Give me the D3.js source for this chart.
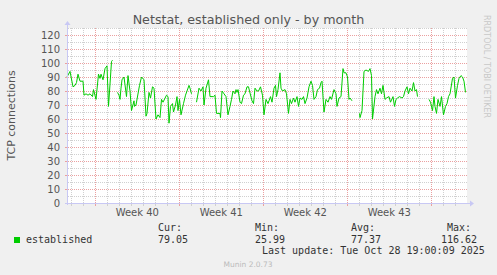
<!DOCTYPE html>
<html>
<head>
<meta charset="utf-8">
<script src="https://cdn.jsdelivr.net/npm/d3@7/dist/d3.min.js"></script>
<style>
body{margin:0;background:#f0f0f0;}
svg{display:block;}
</style>
</head>
<body>
<svg id="chart" width="497" height="275"></svg>
<script>
// hours since the start of the graph window, and the value read there (null = no data)
var hours = [0,6,12,16,19,22,26,32,34,38,42,46,51,53,58,63,66,68,72,76,80,83,89,91,96,
	101,104,106,108,110,114,119,122,126,129,134,135,138,145,149,154,158,160,164,167,171,174,178,182,186,189,192,199,202,204,207,211,213,217,220,222,225,228,233,237,240,244,246,249,254,
	259,264,268,272,274,278,283,286,293,296,299,306,307,310,314,318,322,326,329,332,336,338,340,342,346,349,353,356,360,363,365,370,373,376,380,383,387,391,394,398,402,407,410,414,417,419,422,426,428,431,436,439,443,446,449,453,456,460,463,466,470,473,476,480,484,488,491,494,498,501,505,508,510,514,518,522,526,529,534,538,540,544,548,552,554,558,561,564,566,570,576,
	585,586,590,594,598,603,606,609,611,616,619,622,626,629,632,636,639,644,647,652,655,658,661,665,670,673,676,680,683,686,690,693,696,699,701,712,
	724,727,731,734,736,739,742,746,749,753,757,760,763,766,771,774,777,781,784,788,791,794,797];
var established = [90,94,83,84,86,92,87,87,77,78,77,78,76,81,74,92,89,92,88,96,98,69,101,102,null,
	79,77,74,82,88,90,76,91,80,66,73,69,70,84,90,88,62,64,79,75,83,82,60,63,61,74,72,77,76,57,69,71,65,70,76,66,74,63,71,77,80,84,82,78,null,
	72,82,80,83,70,82,88,76,76,77,64,64,61,80,78,76,63,69,74,80,78,81,79,81,72,71,77,78,83,83,80,73,71,82,80,80,83,77,63,74,71,76,72,82,84,76,81,93,82,80,81,78,64,74,71,75,72,76,69,75,74,76,71,75,83,87,84,74,76,81,82,86,87,65,74,72,76,74,81,78,69,75,76,96,93,93,90,74,75,73,null,
	64,61,66,94,95,94,96,91,60,76,81,78,82,78,84,74,75,76,72,76,69,74,75,76,75,76,80,83,78,82,80,86,80,81,76,null,
	74,72,66,76,69,64,74,69,76,63,69,71,76,78,89,90,75,84,89,91,90,87,79];

var yTicks = [0,10,20,30,40,50,60,70,80,90,100,110,120];
var legendHeads = ["Cur:","Min:","Avg:","Max:"];
var legendValues = ["79.05","25.99","77.37","116.62"];
var lastUpdate = "Last update: Tue Oct 28 19:00:09 2025";

var HOUR = 3600*1000;
var startTime = Date.UTC(2025,8,26,15,24,0);
var endTime = startTime + 800*HOUR;

var svg = d3.select("#chart");
var plotLeft = 67, plotTop = 28, plotW = 400, plotH = 175;
var plotBottom = plotTop + plotH;

var x = d3.scaleUtc().domain([new Date(startTime), new Date(endTime)]).range([plotLeft, plotLeft+plotW]);
var y = d3.scaleLinear().domain([0,125]).range([plotBottom, plotTop]);

var points = hours.map(function(h,i){
	return {t:new Date(startTime + h*HOUR), v:established[i]};
});

// plot canvas
svg.append("rect").attr("x",plotLeft).attr("y",plotTop).attr("width",plotW).attr("height",plotH).attr("fill","#ffffff");

var weeks = d3.utcMonday.range(x.domain()[0], x.domain()[1]);
var days = d3.utcDay.range(x.domain()[0], x.domain()[1]).filter(function(d){return d.getUTCDay()!==1;});
var minorY = d3.range(5,126,10);
var px = function(d){return Math.round(x(d))+0.5;};
var py = function(d){return Math.round(y(d))+0.5;};
var minorCol = "#d0d0d0", majorCol = "#eba0a0";

var grid = svg.append("g");
grid.selectAll(".vmin").data(days).enter().append("line")
	.attr("x1",px).attr("x2",px)
	.attr("y1",plotTop).attr("y2",plotBottom)
	.attr("stroke",minorCol).attr("stroke-dasharray","1,1");
grid.selectAll(".hmin").data(minorY).enter().append("line")
	.attr("y1",py).attr("y2",py)
	.attr("x1",plotLeft+1).attr("x2",plotLeft+plotW+1)
	.attr("stroke",minorCol).attr("stroke-dasharray","1,1");
grid.selectAll(".vmaj").data(weeks).enter().append("line")
	.attr("x1",px).attr("x2",px)
	.attr("y1",plotTop).attr("y2",plotBottom)
	.attr("stroke",majorCol).attr("stroke-dasharray","1,1");
grid.selectAll(".hmaj").data(yTicks.slice(1)).enter().append("line")
	.attr("y1",py).attr("y2",py)
	.attr("x1",plotLeft+1).attr("x2",plotLeft+plotW+1)
	.attr("stroke",majorCol).attr("stroke-dasharray","1,1");

// small ticks on the axes
grid.selectAll(".dtick").data(days).enter().append("line")
	.attr("x1",px).attr("x2",px)
	.attr("y1",plotBottom+1).attr("y2",plotBottom+3)
	.attr("stroke",minorCol);
grid.selectAll(".wtick").data(weeks).enter().append("line")
	.attr("x1",px).attr("x2",px)
	.attr("y1",plotBottom+1).attr("y2",plotBottom+3)
	.attr("stroke",majorCol);
grid.selectAll(".ytick").data(yTicks.slice(1)).enter().append("line")
	.attr("y1",py).attr("y2",py)
	.attr("x1",plotLeft-2).attr("x2",plotLeft)
	.attr("stroke",majorCol);

// data line
var line = d3.line()
	.defined(function(d){return d.v!==null;})
	.x(function(d){return x(d.t);})
	.y(function(d){return y(d.v);});
svg.append("path").datum(points).attr("d",line)
	.attr("fill","none").attr("stroke","#00cc00").attr("stroke-width",1);

// axes
var axisCol = "#c8c8f4";
svg.append("line").attr("x1",plotLeft-2).attr("x2",plotLeft+plotW+3).attr("y1",plotBottom+0.5).attr("y2",plotBottom+0.5)
	.attr("stroke",axisCol);
svg.append("line").attr("x1",plotLeft+0.5).attr("x2",plotLeft+0.5).attr("y1",plotBottom+2).attr("y2",plotTop-4)
	.attr("stroke",axisCol);
svg.append("path").attr("d","M"+(plotLeft+plotW+3)+","+(plotBottom-2.5)+"l4,3l-4,3z").attr("fill",axisCol);
svg.append("path").attr("d","M"+(plotLeft-2.5)+","+(plotTop-3)+"l3,-4l3,4z").attr("fill",axisCol);

// y labels
svg.selectAll(".ylab").data(yTicks).enter().append("text")
	.attr("x",plotLeft-7).attr("y",function(d){return y(d)+3.5;})
	.attr("text-anchor","end")
	.attr("font-family","DejaVu Sans").attr("font-size","10px").attr("fill","#555")
	.text(function(d){return d;});

// week labels, centred on the middle of each week
var weekFmt = d3.utcFormat("%V");
var weekMid = function(d){return new Date(d.getTime()+84*HOUR);};
svg.selectAll(".xlab").data(weeks.filter(function(d){return weekMid(d) < x.domain()[1];})).enter().append("text")
	.attr("x",function(d){return x(weekMid(d));})
	.attr("y",216)
	.attr("text-anchor","middle")
	.attr("font-family","DejaVu Sans").attr("font-size","10px").attr("fill","#555")
	.text(function(d){return "Week "+(+weekFmt(d));});

// title and side texts
svg.append("text").attr("x",248.5).attr("y",24).attr("text-anchor","middle")
	.attr("font-family","DejaVu Sans").attr("font-size","12.7px").attr("fill","#555")
	.text("Netstat, established only - by month");
svg.append("text").attr("transform","translate(15,"+(plotTop+plotH/2)+") rotate(-90)")
	.attr("text-anchor","middle")
	.attr("font-family","DejaVu Sans").attr("font-size","11px").attr("fill","#555")
	.text("TCP connections");
svg.append("text").attr("transform","translate(484,15) rotate(90)")
	.attr("font-family","DejaVu Sans").attr("font-size","8px").attr("fill","#c8c8c8")
	.text("RRDTOOL / TOBI OETIKER");

// legend
var mono = "DejaVu Sans Mono";
svg.append("rect").attr("x",14).attr("y",237).attr("width",6).attr("height",6).attr("fill","#00cc00");
svg.append("text").attr("x",26).attr("y",243).attr("font-family",mono).attr("font-size","10px").attr("fill","#333")
	.text("established");
var headX = [158,255,351,447];
var valX = [158,255,351,441];
svg.selectAll(".lh").data(legendHeads).enter().append("text")
	.attr("x",function(d,i){return headX[i];}).attr("y",231)
	.attr("font-family",mono).attr("font-size","10px").attr("fill","#333")
	.text(function(d){return d;});
svg.selectAll(".lv").data(legendValues).enter().append("text")
	.attr("x",function(d,i){return valX[i];}).attr("y",243)
	.attr("font-family",mono).attr("font-size","10px").attr("fill","#333")
	.text(function(d){return d;});
svg.append("text").attr("x",262).attr("y",254).attr("font-family",mono).attr("font-size","10px").attr("fill","#333")
	.text(lastUpdate);
svg.append("text").attr("x",248).attr("y",267).attr("text-anchor","middle")
	.attr("font-family","DejaVu Sans").attr("font-size","7.5px").attr("fill","#bbb")
	.text("Munin 2.0.73");
</script>
</body>
</html>
